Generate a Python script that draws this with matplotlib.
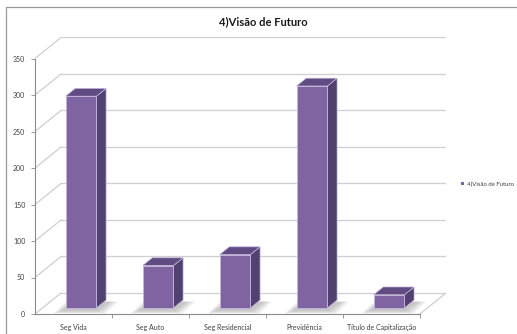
import matplotlib.pyplot as plt
from matplotlib.patches import Polygon, Rectangle

categories = ["Seg Vida", "Seg Auto", "Seg Residencial", "Previdência",
              "Título de Capitalização"]
values = [290, 58, 73, 304, 18]
y_ticks = [0, 50, 100, 150, 200, 250, 300, 350]
series_name = "4)Visão de Futuro"
title = "4)Visão de Futuro"

plt.rcParams["font.family"] = ["Lato", "DejaVu Sans"]

# 3d look: depth vector of the plot box in data units (category, value)
DX, DY = 0.338, 28.8
f0, f1 = 0.29, 0.66          # bar front / back depth fraction
half_w = 0.2

front_c = "#8064a2"
side_c = "#514070"
top_c = "#604b82"
edge_c = "#c4b6dc"
grid_c = "#cfcfcf"
axis_c = "#8a8a8a"

fig = plt.figure(figsize=(5.17, 3.34), dpi=100)
ax = fig.add_axes([35 / 517, 20 / 334, 411 / 517, 277.4 / 334])
ax.set_xlim(-0.5, 4.5 + DX)
ax.set_ylim(0, 380)
ax.patch.set_alpha(0)

# chart border (right and bottom run off the picture)
fig.patches.append(Rectangle((6 / 517, -0.2), 1.2, 1.2 - 7 / 334,
                             transform=fig.transFigure, fill=False,
                             edgecolor="#9a9a9a", linewidth=0.9))

# back wall and side wall gridlines
for t in y_ticks:
    ax.plot([-0.5 + DX, 4.5 + DX], [t + DY, t + DY], color=grid_c, lw=0.9, zorder=1)
    ax.plot([-0.5, -0.5 + DX], [t, t + DY], color=grid_c, lw=0.9, zorder=1)
# floor right edge
ax.plot([4.5, 4.5 + DX], [0, DY], color=grid_c, lw=0.9, zorder=1)

# bars
xs = list(range(len(categories)))
for x, v in zip(xs, values):
    xl = x - half_w + f0 * DX
    xr = x + half_w + f0 * DX
    y0 = f0 * DY
    ddx, ddy = (f1 - f0) * DX, (f1 - f0) * DY
    # soft shadow on the floor
    for k in range(6):
        s = 0.02 * k
        ax.add_patch(Polygon([(xl - 0.06 - s, y0 - 4 - s * 40),
                              (xr + 0.02 + s, y0 - 4 - s * 40),
                              (xr + ddx + 0.06 + s, y0 + ddy - 2),
                              (xl + ddx - 0.02 - s, y0 + ddy - 2)],
                             closed=True, facecolor="#6a6a6a", alpha=0.07,
                             edgecolor="none", zorder=2))
    ax.add_patch(Polygon([(xr, y0), (xr + ddx, y0 + ddy),
                          (xr + ddx, y0 + v + ddy), (xr, y0 + v)],
                         closed=True, facecolor=side_c, edgecolor=edge_c,
                         lw=0.5, zorder=3))
    ax.add_patch(Polygon([(xl, y0 + v), (xr, y0 + v),
                          (xr + ddx, y0 + v + ddy), (xl + ddx, y0 + v + ddy)],
                         closed=True, facecolor=top_c, edgecolor=edge_c,
                         lw=0.5, zorder=3))
ax.bar([x + f0 * DX for x in xs], values, width=2 * half_w, bottom=f0 * DY,
       color=front_c, edgecolor=edge_c, linewidth=0.6, zorder=4,
       label=series_name)

# front axes
for side in ["top", "right"]:
    ax.spines[side].set_visible(False)
ax.spines["left"].set_bounds(0, 350)
ax.spines["bottom"].set_bounds(-0.5, 4.5)
for side in ["left", "bottom"]:
    ax.spines[side].set_color(axis_c)
    ax.spines[side].set_linewidth(0.8)

ax.set_yticks(y_ticks)
ax.set_yticklabels([str(t) for t in y_ticks], fontsize=5, color="#404040")
ax.tick_params(axis="y", length=3, width=0.6, color=axis_c, pad=4)

ax.set_xticks(xs)
ax.set_xticklabels(categories, fontsize=5, color="#404040")
ax.tick_params(axis="x", which="major", length=0, pad=7)
ax.set_xticks([x + 0.5 for x in xs], minor=True)
ax.tick_params(axis="x", which="minor", length=3, width=0.6, color=axis_c)

fig.text(263 / 517, 1 - 22 / 334, title, ha="center", va="center",
         fontsize=8, fontweight="bold", color="#1a1a1a")

leg = fig.legend(loc="center left", bbox_to_anchor=(461 / 517, 1 - 184 / 334),
                 frameon=False, fontsize=4.3, handlelength=0.45, handleheight=0.6,
                 handletextpad=0.5, borderpad=0, borderaxespad=0,
                 labelcolor="#404040")
for h in leg.legend_handles:
    h.set_edgecolor("none")

fig.savefig("out.png", dpi=100)
